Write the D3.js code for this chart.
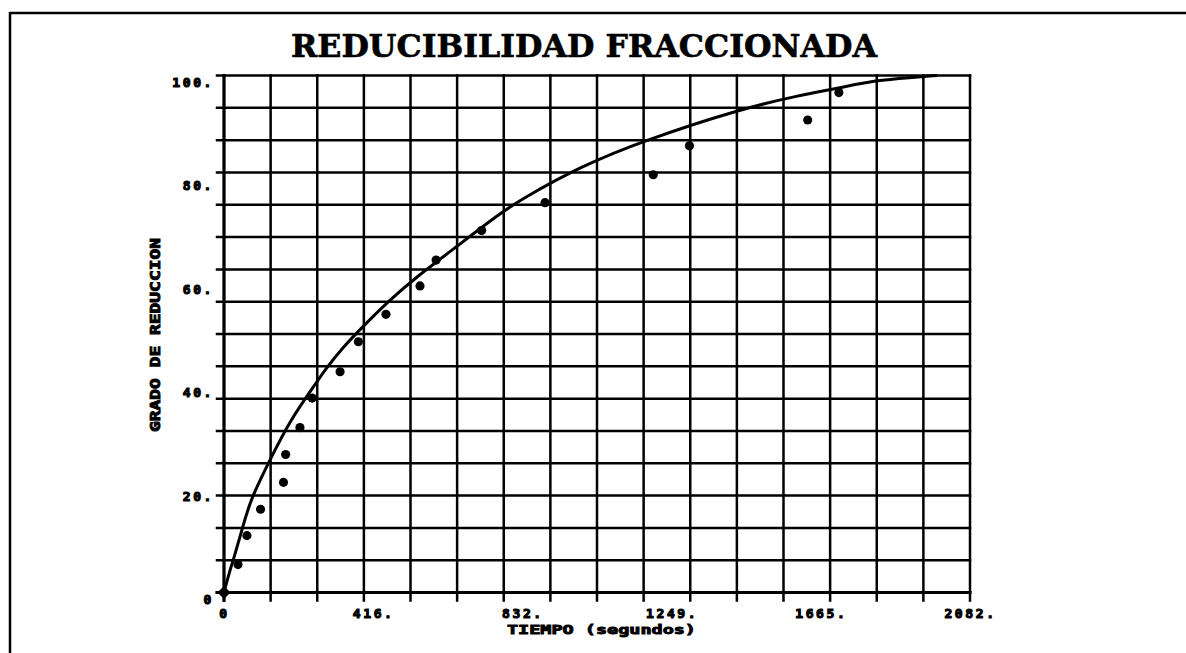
<!DOCTYPE html>
<html>
<head>
<meta charset="utf-8">
<script src="https://cdn.jsdelivr.net/npm/d3@7"></script>
<style>
  html, body { margin: 0; padding: 0; background: #fff; }
  svg { display: block; }
</style>
</head>
<body>
<svg id="chart" width="1186" height="653"></svg>
<script>
// Texts
const chartTitle = "REDUCIBILIDAD FRACCIONADA";
const xTitle = "TIEMPO (segundos)";
const yTitle = "GRADO DE REDUCCION";

// Axis ticks and labels
const xMax = 2082;
const yMax = 100;
const xTickValues = [0, 416.4, 832.8, 1249.2, 1665.6, 2082];
const xTickLabels = ["0", "416.", "832.", "1249.", "1665.", "2082."];
const yTickValues = [0, 20, 40, 60, 80, 100];
const yTickLabels = ["0", "20.", "40.", "60.", "80.", "100."];
const gridDivisions = 16;

// Measured samples: time (s) and degree of reduction (%)
const sampleTime = [0, 39, 64, 102, 166, 172, 212, 246, 324, 375, 452, 547, 592, 719, 896, 1198, 1299, 1629, 1716];
const sampleReduction = [0, 5.4, 11.0, 16.1, 21.3, 26.7, 31.9, 37.6, 42.7, 48.5, 53.8, 59.3, 64.3, 70.0, 75.4, 80.8, 86.4, 91.4, 96.7];

// Fitted curve
const fitTime = [0, 17, 26, 49, 73, 128, 184, 263, 282, 333, 384, 463, 533, 649, 770, 826, 994, 1175, 1440, 1608, 1710, 1822, 1915, 1990];
const fitReduction = [0, 4.4, 6.3, 11.8, 17.9, 25.6, 33.3, 41.1, 43.1, 47.5, 51.2, 56.6, 60.8, 66.9, 73.3, 75.9, 82.4, 87.5, 93.5, 96.2, 97.5, 99.1, 99.6, 100];

const svg = d3.select("#chart");
const ink = "#000";

const x = d3.scaleLinear().domain([0, xMax]).range([224, 970]);
const y = d3.scaleLinear().domain([0, yMax]).range([592.5, 75.5]);

// Page frame (top and left edges)
svg.append("line").attr("x1", 10).attr("y1", 13).attr("x2", 1186).attr("y2", 13)
  .attr("stroke", ink).attr("stroke-width", 2.5);
svg.append("line").attr("x1", 10).attr("y1", 12).attr("x2", 10).attr("y2", 653)
  .attr("stroke", ink).attr("stroke-width", 2.5);

// Title
svg.append("text")
  .attr("x", 291).attr("y", 57)
  .attr("textLength", 586).attr("lengthAdjust", "spacingAndGlyphs")
  .attr("font-family", "'DejaVu Serif', 'Liberation Serif', serif")
  .attr("font-weight", "bold").attr("font-size", 31)
  .attr("fill", ink).attr("stroke", ink).attr("stroke-width", 0.6)
  .text(chartTitle);

// Grid
const xGrid = d3.range(gridDivisions + 1).map(i => xMax * i / gridDivisions);
const yGrid = d3.range(gridDivisions + 1).map(i => yMax * i / gridDivisions);
const grid = svg.append("g").attr("stroke", ink).attr("stroke-width", 2.5).attr("stroke-linecap", "square");
grid.selectAll(".v").data(xGrid).join("line")
  .attr("x1", d => x(d)).attr("x2", d => x(d))
  .attr("y1", y(yMax)).attr("y2", y(0) + 8);
grid.selectAll(".h").data(yGrid).join("line")
  .attr("y1", d => y(d)).attr("y2", d => y(d))
  .attr("x1", x(0) - 7).attr("x2", x(xMax));
// Heavier axes
grid.append("line").attr("x1", x(0)).attr("x2", x(0)).attr("y1", y(yMax)).attr("y2", y(0) + 8).attr("stroke-width", 3);
grid.append("line").attr("x1", x(0) - 7).attr("x2", x(xMax)).attr("y1", y(0)).attr("y2", y(0)).attr("stroke-width", 3);

const labelFont = "'DejaVu Sans Mono', monospace";

// X tick labels
const xAxis = d3.axisBottom(x).tickValues(xTickValues)
  .tickFormat((d, i) => xTickLabels[i]).tickSize(0).tickPadding(0);
const gx = svg.append("g").attr("transform", `translate(0, ${y(0) + 25})`).call(xAxis);
gx.select(".domain").remove();
gx.selectAll("text")
  .attr("dy", 0).attr("y", 0)
  .attr("font-family", labelFont).attr("font-weight", "bold").attr("font-size", 13)
  .attr("letter-spacing", 2.6).attr("fill", ink).attr("stroke", ink).attr("stroke-width", 1.1)
  .attr("text-anchor", "middle");

// Y tick labels
const yAxis = d3.axisLeft(y).tickValues(yTickValues)
  .tickFormat((d, i) => yTickLabels[i]).tickSize(0).tickPadding(0);
const gy = svg.append("g").attr("transform", `translate(214, 0)`).call(yAxis);
gy.select(".domain").remove();
gy.selectAll("text")
  .attr("dy", 0).attr("x", 0).attr("y", 11)
  .attr("font-family", labelFont).attr("font-weight", "bold").attr("font-size", 13)
  .attr("letter-spacing", 2.6).attr("fill", ink).attr("stroke", ink).attr("stroke-width", 1.1)
  .attr("text-anchor", "end");

// Axis titles
svg.append("text")
  .attr("x", 507).attr("y", 634)
  .attr("textLength", 189).attr("lengthAdjust", "spacingAndGlyphs")
  .attr("font-family", labelFont).attr("font-weight", "bold").attr("font-size", 13)
  .attr("fill", ink).attr("stroke", ink).attr("stroke-width", 0.9)
  .text(xTitle);
svg.append("text")
  .attr("transform", "translate(160, 432) rotate(-90)")
  .attr("textLength", 194).attr("lengthAdjust", "spacingAndGlyphs")
  .attr("font-family", labelFont).attr("font-weight", "bold").attr("font-size", 14)
  .attr("fill", ink).attr("stroke", ink).attr("stroke-width", 0.9)
  .text(yTitle);

// Fitted curve
const fit = fitTime.map((t, i) => [t, fitReduction[i]]);
svg.append("path")
  .datum(fit)
  .attr("fill", "none").attr("stroke", ink).attr("stroke-width", 3)
  .attr("d", d3.line().x(d => x(d[0])).y(d => y(d[1])).curve(d3.curveBasis));

// Samples: first as diamond, the rest as dots
const samples = sampleTime.map((t, i) => ({ t, v: sampleReduction[i], i }));
svg.append("g").selectAll("path").data(samples).join("path")
  .attr("transform", d => `translate(${x(d.t)}, ${y(d.v)})`)
  .attr("d", d => d.i === 0
    ? d3.symbol().type(d3.symbolDiamond2).size(110)()
    : d3.symbol().type(d3.symbolCircle).size(66)())
  .attr("fill", ink);
</script>
</body>
</html>
